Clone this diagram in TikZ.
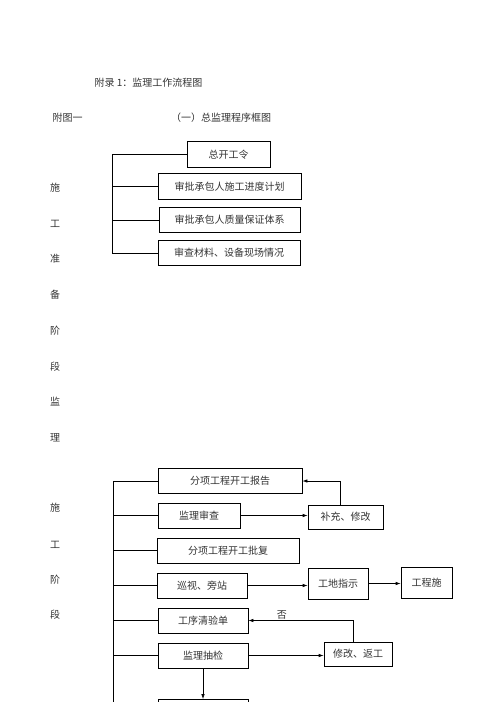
\documentclass[tikz,border=0pt]{standalone}
\usepackage{fontspec}
\setmainfont{Noto Sans CJK SC}
\usepackage{tikz}
\usetikzlibrary{arrows}
\usetikzlibrary{arrows.meta}

\begin{document}
\begin{tikzpicture}[x=1pt,y=-1pt,>={Latex[length=5pt,width=3.5pt]}]
	\useasboundingbox (0,0) rectangle (496,702);
	\clip (0,0) rectangle (496,702);
	\fontsize{10}{12}\selectfont

	\tikzstyle{names}=[inner sep=0pt,text=black!80]
	%Headings
	\node[names] (T-1) at (148.5,83) {附录 1：监理工作流程图};
	\node[names] (T-2) at (67.5,118) {附图一};
	\node[names] (T-3) at (221,118) {（一）总监理程序框图};

	%Stage 1 - Side Letters
	\foreach \name/\y in {施/188, 工/224, 准/259, 备/295, 阶/331, 段/367, 监/402, 理/438}
	\node[names] (S1-\y) at (55,\y) {\name};

	%Stage 2 - Side Letters
	\foreach \name/\y in {施/508, 工/545, 阶/580, 段/615}
	\node[names] (S2-\y) at (55,\y) {\name};

	%Stage 1 - Boxes
	\tikzstyle{box}=[draw,rectangle,line width=0.7pt,inner sep=0pt,text=black!80]
	\foreach \name/\i/\x/\y/\w in {总开工令/1/228.5/154.5/83, 审批承包人施工进度计划/2/229.5/186.5/143, 审批承包人质量保证体系/3/229.5/220/141, 审查材料、设备现场情况/4/229/253/142}
	\node[box,minimum width=\w*1pt,minimum height=25.5pt] (P-\i) at (\x,\y) {\name};

	%Stage 2 - Left Boxes
	\foreach \name/\i/\x/\y/\w in {分项工程开工报告/1/230/481/144, 监理审查/2/199/515.5/82, 分项工程开工批复/3/228/550.5/142, 巡视、旁站/4/202/585.5/90, 工序清验单/5/203/620.5/90, 监理抽检/6/203/655.5/90, /7/203/712/90}
	\node[box,minimum width=\w*1pt,minimum height=25pt] (C-\i) at (\x,\y) {\name};

	%Stage 2 - Right Boxes
	\foreach \name/\i/\x/\y/\w/\h in {补充、修改/1/345.5/517/75/24, 工地指示/2/338/583.5/60/31, 工程施/3/426.5/582.5/51/31, 修改、返工/4/358/654/68/24}
	\node[box,minimum width=\w*1pt,minimum height=\h*1pt] (R-\i) at (\x,\y) {\name};

	%Links
	%Stage 1:
	\coordinate (P-top) at (112,154.5);
	\coordinate (P-bot) at (112,253);
	\draw[line width=0.7pt] (P-top) -- (P-bot);
	\foreach \i in {1,...,4}
	\draw[line width=0.7pt] (P-\i.west) -- (P-\i.west -| P-top);

	%Stage 2:
	\coordinate (C-top) at (113,481);
	\coordinate (C-bot) at (113,702);
	\draw[line width=0.7pt] (C-top) -- (C-bot);
	\foreach \i in {1,...,6}
	\draw[line width=0.7pt] (C-\i.west) -- (C-\i.west -| C-top);

	%Arrows
	\draw[->,line width=0.7pt] ([xshift=-5pt]R-1.north) |- (C-1.east);
	\draw[->,line width=0.7pt] (C-2.east) -- (C-2.east -| R-1.west);
	\draw[->,line width=0.7pt] (C-4.east) -- (C-4.east -| R-2.west);
	\draw[->,line width=0.7pt] (R-2.east) -- (R-2.east -| R-3.west);
	\draw[->,line width=0.7pt] ([xshift=-5pt]R-4.north) |- (C-5.east) node[names,pos=0.84,above=0.5pt] {否};
	\draw[->,line width=0.7pt] (C-6.east) -- (C-6.east -| R-4.west);
	\draw[->,line width=0.7pt] (C-6.south) -- (C-7.north);

\end{tikzpicture}
\end{document}
